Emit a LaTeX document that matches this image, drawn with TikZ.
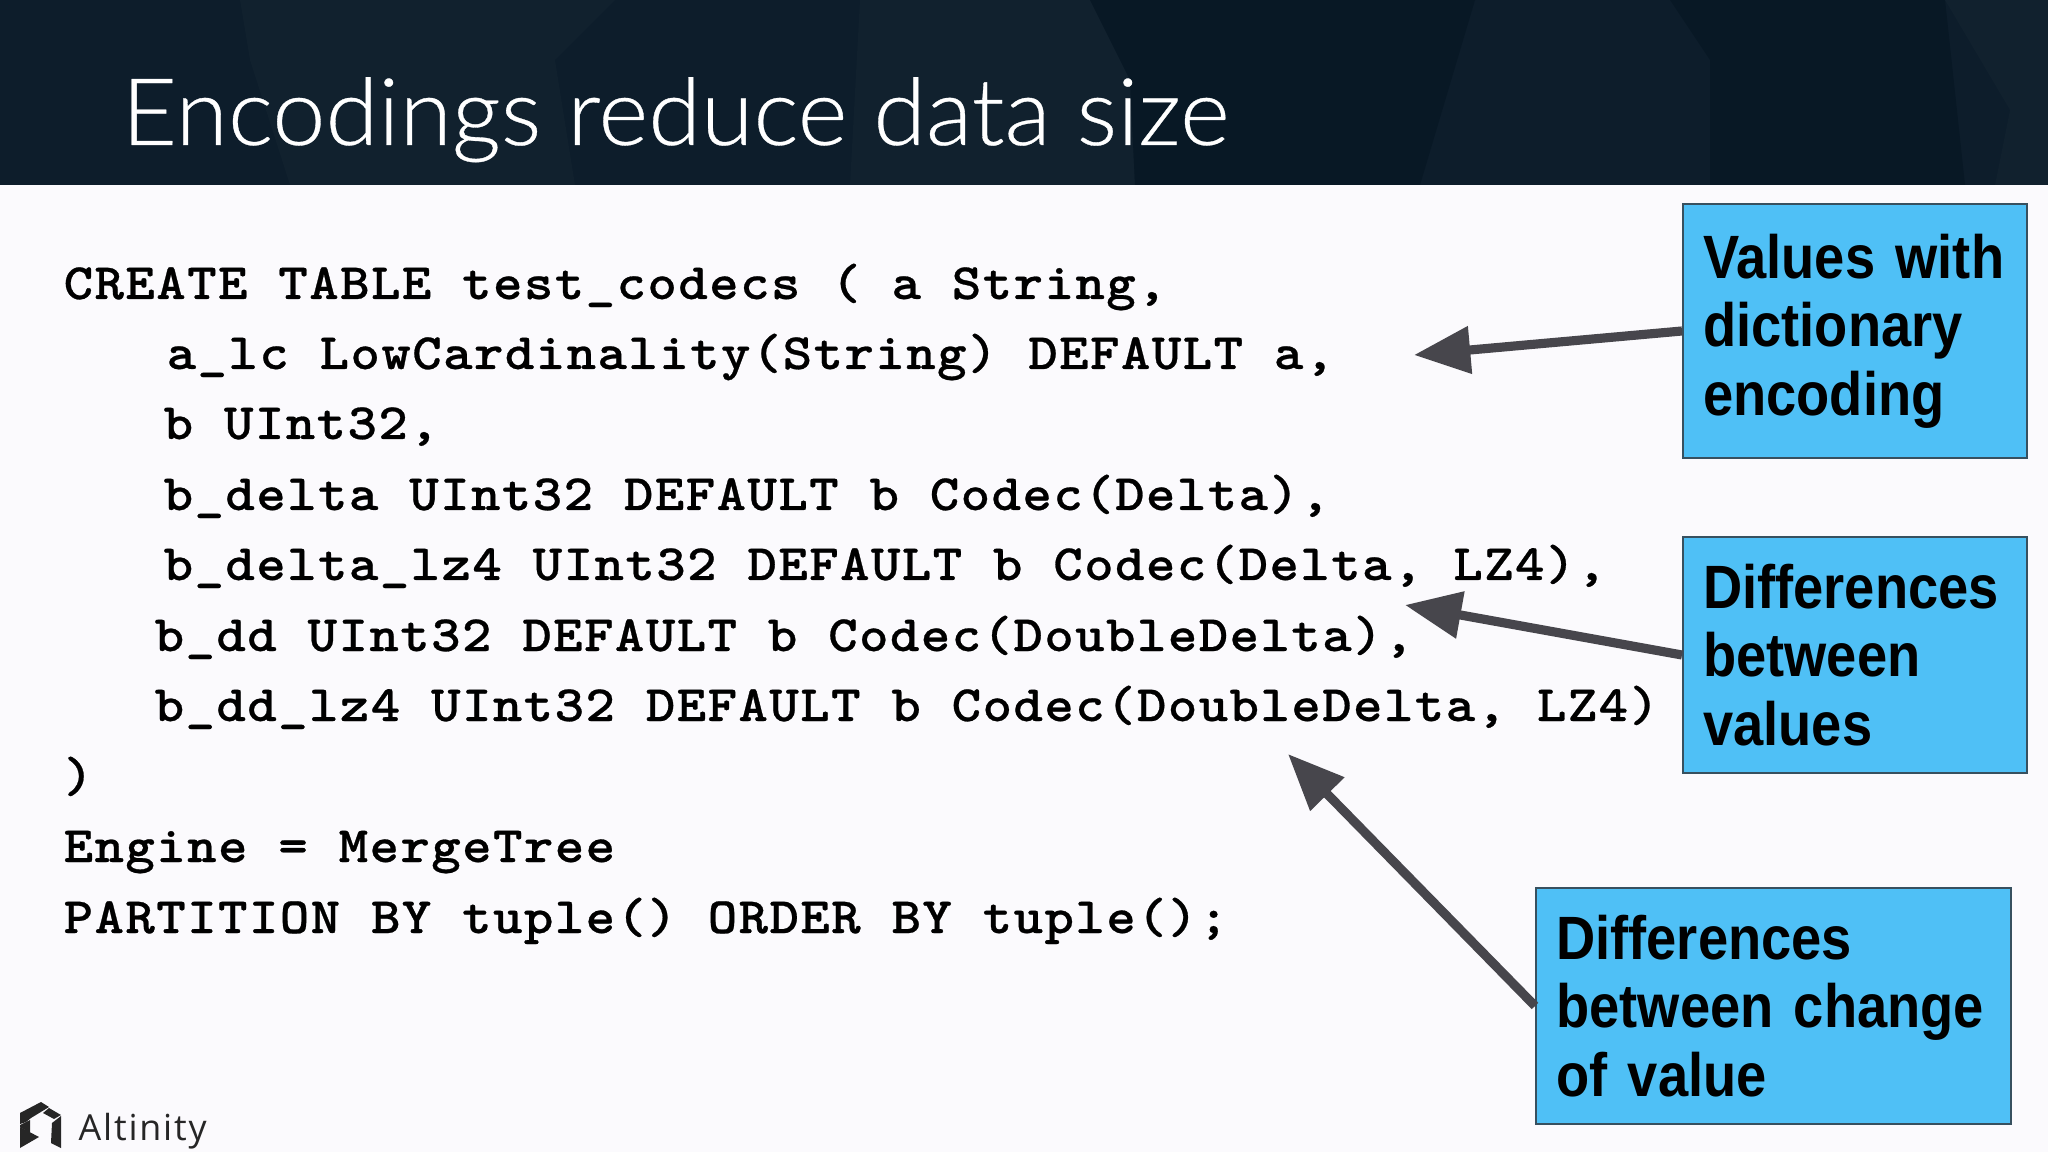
\documentclass[tikz,border=0pt]{standalone}
\usepackage{fontspec}
\usetikzlibrary{arrows.meta}
\newfontfamily\titlefont{Lato Light}[FakeStretch=1.025,FakeBold=0.35]
\newfontfamily\calloutfont{Liberation Sans}[FakeStretch=0.887,WordSpace=0.4]
\newfontfamily\logofont{Open Sans}[LetterSpace=5]
\setmonofont{Latin Modern Mono Light}[FakeStretch=1.1,LetterSpace=2.8,FakeBold=0.5]
\definecolor{headbg}{HTML}{0D1D2B}
\definecolor{headdark}{HTML}{081825}
\definecolor{headlight}{HTML}{11212E}
\definecolor{slidebg}{HTML}{FBFAFD}
\definecolor{calloutbg}{HTML}{4FC0F6}
\definecolor{calloutline}{HTML}{37505F}
\definecolor{arrowgray}{HTML}{47464C}
\tikzset{
  codeline/.style={anchor=base west,inner sep=0pt,font=\ttfamily\bfseries\fontsize{14.5pt}{16pt}\selectfont},
  callout/.style={draw=calloutline,line width=0.5pt,fill=calloutbg,inner xsep=5.8pt,inner ysep=0pt,align=left,
    font=\calloutfont\bfseries\fontsize{17.4pt}{19.5pt}\selectfont,text=black},
  pointer/.style={-{Triangle[length=16pt,width=13pt]},line width=2.6pt,color=arrowgray},
}
\begin{document}
\begin{tikzpicture}[x=0.01cm,y=-0.01cm]
  \useasboundingbox (0,0) rectangle (2048,1152);
  \fill[slidebg] (0,0) rectangle (2048,1152);
  \fill[headbg] (0,0) rectangle (2048,185);
  \fill[headlight] (240,0)--(615,0)--(555,60)--(575,185)--(290,185)--(250,60)--cycle;
  \fill[headlight] (860,0)--(1090,0)--(1130,80)--(1135,185)--(850,185)--cycle;
  \fill[headdark] (1090,0)--(1475,0)--(1420,185)--(1135,185)--(1130,80)--cycle;
  \fill[headdark] (1670,0)--(1945,0)--(1965,185)--(1710,185)--(1710,60)--cycle;
  \fill[headlight] (1945,0)--(2048,0)--(2048,185)--(1995,185)--(2010,110)--cycle;

  \node[anchor=base west,inner sep=0pt,text=white,font=\titlefont\fontsize{26.5pt}{30pt}\selectfont] (title) at (121,145) {Encodings reduce data size};

  \node[codeline] (l1) at (63,299) {CREATE TABLE test\_codecs ( a String,};
  \node[codeline] (l2) at (166,369) {a\_lc LowCardinality(String) DEFAULT a,};
  \node[codeline] (l3) at (163,439) {b UInt32,};
  \node[codeline] (l4) at (163,510) {b\_delta UInt32 DEFAULT b Codec(Delta),};
  \node[codeline] (l5) at (163,580) {b\_delta\_lz4 UInt32 DEFAULT b Codec(Delta, LZ4),};
  \node[codeline] (l6) at (154,651) {b\_dd UInt32 DEFAULT b Codec(DoubleDelta),};
  \node[codeline] (l7) at (154,721) {b\_dd\_lz4 UInt32 DEFAULT b Codec(DoubleDelta, LZ4)};
  \node[codeline] (l8) at (63,792) {)};
  \node[codeline] (l9) at (63,862) {Engine = MergeTree};
  \node[codeline] (l10) at (63,933) {PARTITION BY tuple() ORDER BY tuple();};

  \node[callout,minimum width=344*0.2845pt,minimum height=254*0.2845pt,text width=86.3pt] (dict) at (1855,331) {Values with\\dictionary\\encoding};
  \node[callout,minimum width=344*0.2845pt,minimum height=236*0.2845pt,text width=86.3pt] (diff) at (1855,655) {Differences\\between\\values};
  \node[callout,minimum width=475*0.2845pt,minimum height=236*0.2845pt,text width=123.5pt] (change) at (1773.5,1006) {Differences\\between change\\of value};

  \coordinate (tipdict) at (1414,355);
  \coordinate (tipdiff) at (1405,605);
  \coordinate (tipchange) at (1288,754);
  \draw[pointer] (dict.west)--(tipdict);
  \draw[pointer] (diff.west)--(tipdiff);
  \draw[pointer] (change.west)--(tipchange);

  \fill[black!85] (20,1113)--(41,1102)--(49,1107)--(31,1118)--(26,1122)--(20,1124)--cycle;
  \fill[black!85] (43,1113)--(49,1108)--(61,1115)--(54,1119)--cycle;
  \fill[black!85] (52,1123)--(61,1116)--(61,1148)--(51,1143)--cycle;
  \fill[black!85] (20,1125)--(30,1120)--(30,1133)--(20,1127)--cycle;
  \fill[black!85] (20,1127)--(39,1137)--(20,1148)--cycle;
  \node[anchor=base west,inner sep=0pt,text=black!85,font=\logofont\fontsize{10.2pt}{12pt}\selectfont] (brand) at (78,1140) {Altinity};
\end{tikzpicture}
\end{document}
